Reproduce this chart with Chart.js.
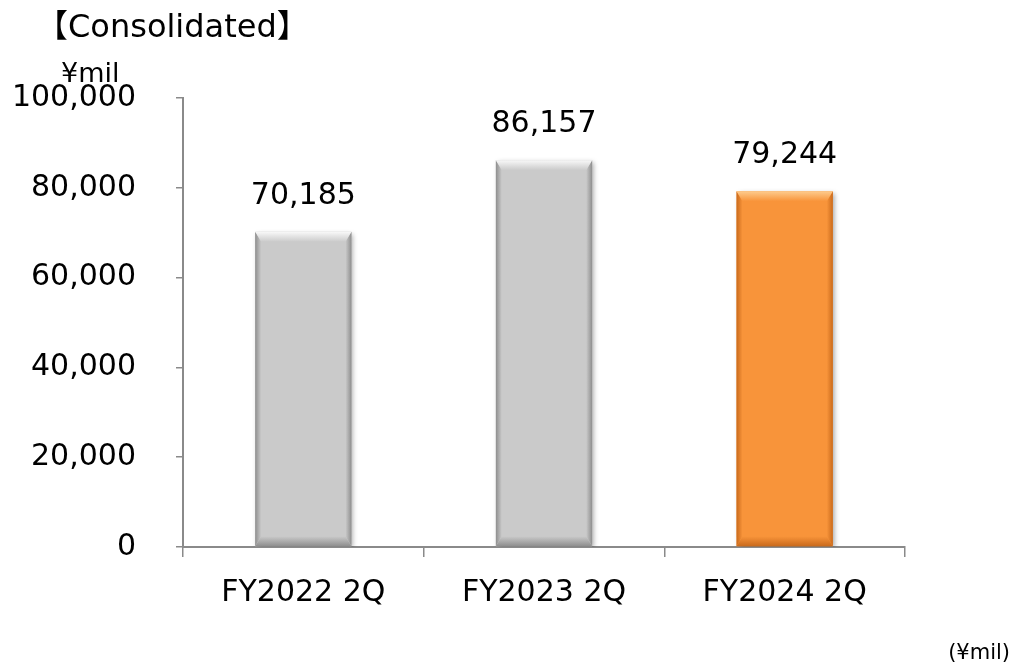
<!DOCTYPE html>
<html><head><meta charset="utf-8">
<script src="https://cdn.jsdelivr.net/npm/chart.js@4/dist/chart.umd.min.js"></script>
<style>html,body{margin:0;padding:0;background:#fff;}#wrap{position:relative;width:1014px;height:664px;}</style>
</head><body><div id="wrap"><canvas id="c" width="1014" height="664"></canvas></div>
<script>
const categories = ['FY2022 2Q', 'FY2023 2Q', 'FY2024 2Q'];
const values = [70185, 86157, 79244];
const yTicks = [0, 20000, 40000, 60000, 80000, 100000];
const barColors = ['#cacaca', '#cacaca', '#f8943a'];
const bevelLight = ['#f8f8f8', '#f8f8f8', '#fdcc8e'];
const bevelDark = ['#8e8e8e', '#8e8e8e', '#c96a1c'];
const titleText = '【Consolidated】';
const unitText = '¥mil';
const noteText = '(¥mil)';

const FONT = '"DejaVu Sans", "Noto Sans CJK JP", sans-serif';
const fmt = v => v.toLocaleString('en-US');

const bevelPlugin = {
  id: 'bevel',
  beforeDatasetDraw(chart) {
    const ctx = chart.ctx;
    ctx.save();
    ctx.shadowColor = 'rgba(0,0,0,0.35)';
    ctx.shadowBlur = 5;
    ctx.shadowOffsetX = 2;
    ctx.shadowOffsetY = 2;
  },
  afterDatasetDraw(chart) {
    const ctx = chart.ctx;
    ctx.restore();
    const meta = chart.getDatasetMeta(0);
    meta.data.forEach((bar, i) => {
      const p = bar.getProps(['x', 'y', 'base', 'width'], true);
      const L = p.x - p.width / 2, R = p.x + p.width / 2, T = p.y, B = p.base;
      const b = 10, s = 6;
      ctx.save();
      let g = ctx.createLinearGradient(L, 0, L + s, 0);
      g.addColorStop(0, bevelDark[i]); g.addColorStop(1, barColors[i]);
      ctx.fillStyle = g;
      ctx.beginPath(); ctx.moveTo(L, T); ctx.lineTo(L + s, T + b); ctx.lineTo(L + s, B - b); ctx.lineTo(L, B); ctx.closePath(); ctx.fill();
      g = ctx.createLinearGradient(R - s, 0, R, 0);
      g.addColorStop(0, barColors[i]); g.addColorStop(1, bevelDark[i]);
      ctx.fillStyle = g;
      ctx.beginPath(); ctx.moveTo(R, T); ctx.lineTo(R - s, T + b); ctx.lineTo(R - s, B - b); ctx.lineTo(R, B); ctx.closePath(); ctx.fill();
      g = ctx.createLinearGradient(0, T, 0, T + b);
      g.addColorStop(0, bevelLight[i]); g.addColorStop(1, barColors[i]);
      ctx.fillStyle = g;
      ctx.beginPath(); ctx.moveTo(L, T); ctx.lineTo(R, T); ctx.lineTo(R - s, T + b); ctx.lineTo(L + s, T + b); ctx.closePath(); ctx.fill();
      g = ctx.createLinearGradient(0, B - b, 0, B);
      g.addColorStop(0, barColors[i]); g.addColorStop(1, bevelDark[i]);
      ctx.fillStyle = g;
      ctx.beginPath(); ctx.moveTo(L, B); ctx.lineTo(R, B); ctx.lineTo(R - s, B - b); ctx.lineTo(L + s, B - b); ctx.closePath(); ctx.fill();
      ctx.restore();
    });
  },
  afterDatasetsDraw(chart) {
    const ctx = chart.ctx;
    const meta = chart.getDatasetMeta(0);
    ctx.save();
    ctx.fillStyle = '#000';
    ctx.font = '30px ' + FONT;
    ctx.textAlign = 'center';
    ctx.textBaseline = 'alphabetic';
    meta.data.forEach((bar, i) => {
      const p = bar.getProps(['x', 'y'], true);
      ctx.fillText(fmt(values[i]), p.x, p.y - 28);
    });
    ctx.restore();
  },
  afterDraw(chart) {
    const ctx = chart.ctx;
    ctx.save();
    ctx.fillStyle = '#000';
    ctx.textBaseline = 'alphabetic';
    ctx.textAlign = 'left';
    ctx.font = '32px ' + FONT;
    ctx.fillText(titleText, 36, 37);
    ctx.font = '27px ' + FONT;
    ctx.fillText(unitText, 61, 82);
    ctx.font = '21px ' + FONT;
    ctx.textAlign = 'right';
    ctx.fillText(noteText, 1010, 659);
    ctx.restore();
  }
};

new Chart(document.getElementById('c'), {
  type: 'bar',
  data: {
    labels: categories,
    datasets: [{
      data: values,
      backgroundColor: barColors,
      borderWidth: 0,
      barPercentage: 0.8,
      categoryPercentage: 0.5
    }]
  },
  options: {
    responsive: false,
    devicePixelRatio: 1,
    animation: false,
    layout: { padding: { left: 0, right: 109, top: 98, bottom: 57 } },
    plugins: { legend: { display: false }, tooltip: { enabled: false } },
    scales: {
      x: {
        afterFit(s) { s.height = 60; },
        grid: { drawOnChartArea: false, drawTicks: true, tickLength: 10, color: '#8a8a8a', lineWidth: 1.5, offset: true },
        border: { color: '#8a8a8a', width: 2 },
        ticks: { color: '#000', font: { family: FONT, size: 30 }, padding: 18 }
      },
      y: {
        min: 0, max: 100000,
        afterFit(s) { s.width = 183; },
        afterBuildTicks(s) { s.ticks = yTicks.map(v => ({ value: v })); },
        grid: { drawOnChartArea: false, drawTicks: true, tickLength: 7, color: '#8a8a8a', lineWidth: 1.5 },
        border: { color: '#8a8a8a', width: 2 },
        ticks: { color: '#000', font: { family: FONT, size: 30 }, padding: 40, callback: v => fmt(v) }
      }
    }
  },
  plugins: [bevelPlugin]
});
</script></body></html>
